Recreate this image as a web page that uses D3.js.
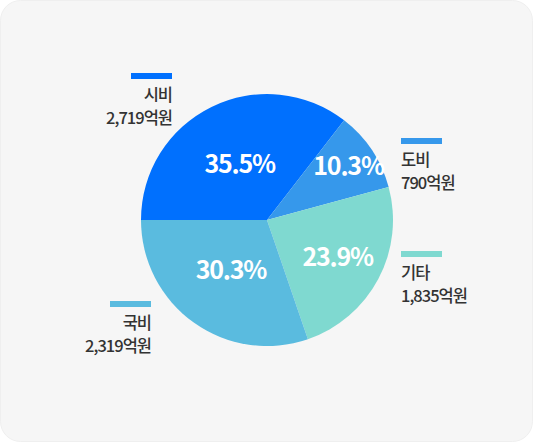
<!DOCTYPE html>
<html lang="ko">
<head>
<meta charset="utf-8">
<title>예산 재원 구성</title>
<script src="https://d3js.org/d3.v7.min.js"></script>
<style>
  html, body { margin: 0; padding: 0; background: #fff; }
  text { font-family: "Noto Sans CJK KR", "Noto Sans", sans-serif; }
  .legend text { fill: #333; font-size: 16.5px; font-weight: 500; letter-spacing: -1px; }
  .pct { fill: #fff; font-size: 25px; font-weight: 600; letter-spacing: -1.2px; }
</style>
</head>
<body>
<div id="chart"></div>
<script>
// data
var names = ["시비", "도비", "기타", "국비"];
var amounts = [2719, 790, 1835, 2319];      // 억원
var shares = [35.5, 10.3, 23.9, 30.3];      // %
var colors = ["#0070fe", "#3698eb", "#7fd9d0", "#5abbdf"];

var width = 533, height = 442;
var cx = 267, cy = 220, radius = 126;

// how far out each percent label sits, and where each legend block goes
var labelR = [62, 98, 80, 62];
var legendPos = [
  { x: 172, y: 73, anchor: "end" },
  { x: 401, y: 138, anchor: "start" },
  { x: 401, y: 251, anchor: "start" },
  { x: 151, y: 301, anchor: "end" }
];

var svg = d3.select("#chart").append("svg")
  .attr("width", width)
  .attr("height", height);

// card
svg.append("rect")
  .attr("x", 0.5).attr("y", 0.5)
  .attr("width", width - 1).attr("height", height - 1)
  .attr("rx", 20)
  .attr("fill", "#f6f6f6")
  .attr("stroke", "#efefef");

var pie = d3.pie()
  .sort(null)
  .startAngle(-Math.PI / 2)
  .endAngle(Math.PI * 1.5)
  .value(function(d) { return d; });

var arcs = pie(amounts);
var arc = d3.arc().innerRadius(0).outerRadius(radius);

var g = svg.append("g").attr("transform", "translate(" + cx + "," + cy + ")");

g.selectAll("path")
  .data(arcs)
  .enter().append("path")
  .attr("d", arc)
  .attr("fill", function(d, i) { return colors[i]; });

g.selectAll("text.pct")
  .data(arcs)
  .enter().append("text")
  .attr("class", "pct")
  .attr("transform", function(d, i) {
    var c = d3.arc().innerRadius(labelR[i]).outerRadius(labelR[i]).centroid(d);
    return "translate(" + c + ")";
  })
  .attr("text-anchor", "middle")
  .attr("dy", "0.36em")
  .text(function(d, i) { return shares[i].toFixed(1) + "%"; });

// legend
var fmt = d3.format(",");
var leg = svg.append("g").attr("class", "legend")
  .selectAll("g")
  .data(names)
  .enter().append("g")
  .attr("transform", function(d, i) { return "translate(" + legendPos[i].x + "," + legendPos[i].y + ")"; });

leg.append("rect")
  .attr("x", function(d, i) { return legendPos[i].anchor == "end" ? -41 : 0; })
  .attr("y", 0)
  .attr("width", 41)
  .attr("height", 6)
  .attr("fill", function(d, i) { return colors[i]; });

leg.append("text")
  .attr("y", 27.5)
  .attr("text-anchor", function(d, i) { return legendPos[i].anchor; })
  .text(function(d) { return d; });

leg.append("text")
  .attr("y", 51)
  .attr("text-anchor", function(d, i) { return legendPos[i].anchor; })
  .text(function(d, i) { return fmt(amounts[i]) + "억원"; });
</script>
</body>
</html>
